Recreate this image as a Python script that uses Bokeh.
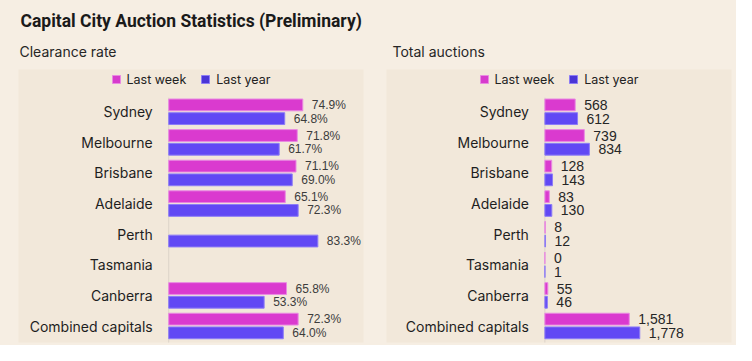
from bokeh.plotting import figure
from bokeh.models import ColumnDataSource, Range1d, Title
from bokeh.layouts import row
from bokeh.transform import dodge
from bokeh.core.properties import value
from bokeh.embed import file_html
from bokeh.resources import INLINE

# ---------------- data ----------------
categories = ["Sydney", "Melbourne", "Brisbane", "Adelaide", "Perth",
              "Tasmania", "Canberra", "Combined capitals"]
clearance_last_week = [74.9, 71.8, 71.1, 65.1, None, None, 65.8, 72.3]
clearance_last_year = [64.8, 61.7, 69.0, 72.3, 83.3, None, 53.3, 64.0]
auctions_last_week = [568, 739, 128, 83, 8, 0, 55, 1581]
auctions_last_year = [612, 834, 143, 130, 12, 1, 46, 1778]
series_names = ["Last week", "Last year"]

main_title = "Capital City Auction Statistics (Preliminary)"
left_title = "Clearance rate"
right_title = "Total auctions"

# ---------------- style ----------------
PAGE_BG = "#f6eee3"
PANEL_BG = "#f2e8da"
MAGENTA = "#da3acf"
MAGENTA_EDGE = "#e98ae2"
BLUE = "#6148f4"
BLUE_EDGE = "#8d7cf6"
LEGEND_MAGENTA = "#d73bcd"
LEGEND_BLUE = "#4a35d6"
CAT_COLOR = "#1e1e1e"
TITLE_FONT = "Roboto"
SUB_FONT = "Inter"
LABEL_FONT = "Inter"
VALUE_FONT = "Liberation Sans"

TOTAL_H = 345
NAN = float("nan")


def fmt_pct(v):
    return "" if v is None else f"{v:.1f}%"


def fmt_int(v):
    return "" if v is None else f"{v:,}"


def make_panel(lw, ly, fmt, x_start, x_end, frame_w, border_l, border_r,
               subtitle, sub_offset, main, main_offset, val_size, val_color):
    idx = list(range(len(categories)))
    src = ColumnDataSource(dict(
        idx=idx,
        cat=categories,
        lw=[NAN if v is None else v for v in lw],
        ly=[NAN if v is None else v for v in ly],
        lw_label=[fmt(v) for v in lw],
        ly_label=[fmt(v) for v in ly],
    ))
    p = figure(width=border_l + frame_w + border_r, height=TOTAL_H,
               x_range=Range1d(x_start, x_end),
               y_range=Range1d(7.539, -1.381),
               x_axis_type=None, y_axis_type=None,
               output_backend="svg", toolbar_location=None, title=None,
               min_border_left=border_l, min_border_right=border_r,
               min_border_top=0, min_border_bottom=3,
               background_fill_color=PANEL_BG, border_fill_color=PAGE_BG,
               outline_line_color=None)

    p.add_layout(Title(text=subtitle, text_font=SUB_FONT, text_font_size="14px",
                       text_font_style="normal", text_color="#262626",
                       offset=sub_offset, standoff=19), "above")
    p.add_layout(Title(text=main, text_font=TITLE_FONT, text_font_size="17.5px",
                       text_font_style="bold", text_color="#1a1a1a",
                       offset=main_offset, standoff=2), "above")
    p.add_layout(Title(text=" ", text_font=TITLE_FONT, text_font_size="4px",
                       standoff=0), "above")

    # axis baseline
    p.segment(x0=0, y0=-0.46, x1=0, y1=7.6, line_color="#dcd3c8", line_width=1)

    p.hbar(y=dodge("idx", -0.224), left=0, right="lw", height=0.386,
           fill_color=MAGENTA, line_color=MAGENTA_EDGE, line_width=1,
           source=src)
    p.hbar(y=dodge("idx", 0.224), left=0, right="ly", height=0.386,
           fill_color=BLUE, line_color=BLUE_EDGE, line_width=1,
           source=src)

    # legend-only swatches (their single row is NaN, so nothing is drawn)
    p.hbar(y=[NAN], left=[NAN], right=[NAN], height=0.386,
           fill_color=LEGEND_MAGENTA, line_color=MAGENTA_EDGE, line_width=1,
           legend_label=series_names[0])
    p.hbar(y=[NAN], left=[NAN], right=[NAN], height=0.386,
           fill_color=LEGEND_BLUE, line_color=BLUE_EDGE, line_width=1,
           legend_label=series_names[1])

    p.text(x="lw", y=dodge("idx", -0.224), text="lw_label", x_offset=9,
           text_baseline="middle", text_align="left",
           text_font=value(VALUE_FONT), text_font_size=val_size,
           text_color=val_color, source=src)
    p.text(x="ly", y=dodge("idx", 0.224), text="ly_label", x_offset=9,
           text_baseline="middle", text_align="left",
           text_font=value(VALUE_FONT), text_font_size=val_size,
           text_color=val_color, source=src)

    p.text(x=0, y="idx", text="cat", x_offset=-16,
           text_baseline="middle", text_align="right",
           text_font=value(LABEL_FONT), text_font_size="14px",
           text_color=CAT_COLOR, source=src)

    lg = p.legend[0]
    lg.location = "top_center"
    lg.orientation = "horizontal"
    lg.background_fill_alpha = 0
    lg.border_line_alpha = 0
    lg.label_text_font = LABEL_FONT
    lg.label_text_font_size = "12.5px"
    lg.label_text_color = "#222222"
    lg.label_height = 20
    lg.glyph_width = 10
    lg.glyph_height = 10
    lg.label_standoff = 6
    lg.spacing = 14
    lg.margin = 0
    lg.padding = 0
    return p


left = make_panel(clearance_last_week, clearance_last_year, fmt_pct,
                  -83.9, 108.8, 345, 18, 13,
                  left_title, 1, main_title, 2, "12px", "#3c3c3c")
right = make_panel(auctions_last_week, auctions_last_year, fmt_int,
                   -2968, 3497, 345, 10, 5,
                   right_title, 6, " ", 0, "14px", "#262626")

layout = row(left, right, spacing=0)
layout.background = PAGE_BG

open("out.html", "w").write(file_html(layout, INLINE))
